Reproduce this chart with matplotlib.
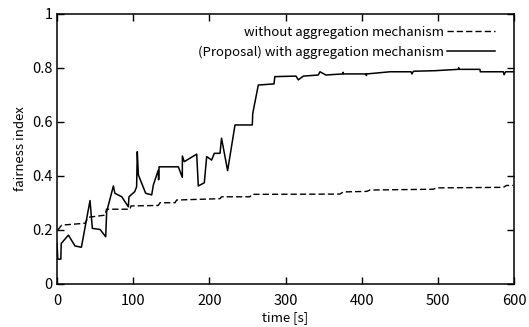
import matplotlib
matplotlib.use("Agg")
import matplotlib.pyplot as plt

plt.rcParams["font.family"] = ["Noto Sans CJK JP", "DejaVu Sans"]

# with aggregation mechanism (proposal)
t_with = [0, 1, 5, 5.5, 14.9, 23.6, 32, 43.3, 46.4, 56.5, 63.9, 65.2, 74, 76, 85,
          93.6, 94.5, 102, 104.5, 105.4, 106.8, 116.4, 124.3, 126.5, 133, 133.4, 134,
          159.3, 164.5, 164.6, 167, 183.4, 185.5, 193.4, 196.5, 203, 206.5, 214, 216,
          224, 233.7, 256.4, 257, 264.3, 284.9, 286, 313.8, 316.8, 323.4, 343, 345.3,
          353, 374.9, 375.5, 376, 405.7, 406.2, 406.7, 437.2, 464.8, 466, 468, 496.2,
          526.9, 527.5, 528, 555.3, 555.8, 564.1, 586, 587, 589, 599]
f_with = [0.15, 0.092, 0.092, 0.15, 0.181, 0.141, 0.136, 0.309, 0.206, 0.202, 0.175,
          0.268, 0.363, 0.336, 0.323, 0.286, 0.323, 0.342, 0.36, 0.49, 0.404, 0.336,
          0.33, 0.367, 0.422, 0.386, 0.434, 0.434, 0.395, 0.474, 0.453, 0.481, 0.363,
          0.375, 0.472, 0.459, 0.484, 0.484, 0.54, 0.42, 0.589, 0.589, 0.632, 0.737,
          0.741, 0.768, 0.77, 0.756, 0.77, 0.774, 0.786, 0.774, 0.778, 0.784, 0.778,
          0.778, 0.772, 0.778, 0.786, 0.786, 0.778, 0.788, 0.79, 0.795, 0.801, 0.795,
          0.795, 0.786, 0.786, 0.786, 0.775, 0.786, 0.786]

# without aggregation mechanism
t_without = [1, 6.1, 36.8, 41, 63, 65, 95.8, 97, 133, 135.2, 155, 157, 214, 216,
             253.4, 255.6, 371.5, 375.9, 406.6, 411, 494, 498.5, 586, 590.4, 599]
f_without = [0.2, 0.218, 0.225, 0.247, 0.255, 0.277, 0.277, 0.289, 0.291, 0.301,
             0.301, 0.311, 0.316, 0.323, 0.323, 0.332, 0.333, 0.341, 0.343, 0.348,
             0.351, 0.356, 0.358, 0.365, 0.365]

x_ticks = [0, 100, 200, 300, 400, 500, 600]
y_ticks = [0, 0.2, 0.4, 0.6, 0.8, 1]
y_labels = ["0", "0.2", "0.4", "0.6", "0.8", "1"]

fig = plt.figure(figsize=(5.29, 3.27), dpi=100)
ax = fig.add_axes([0.1078, 0.1315, 0.8638, 0.8257])

ax.plot(t_without, f_without, color="black", linewidth=1.0,
        linestyle=(0, (4.5, 2.2)), label="without aggregation mechanism")
ax.plot(t_with, f_with, color="black", linewidth=1.1,
        label="(Proposal) with aggregation mechanism")

ax.set_xlim(0, 600)
ax.set_ylim(0, 1)
ax.set_xticks(x_ticks)
ax.set_yticks(y_ticks)
ax.set_yticklabels(y_labels)
ax.tick_params(direction="in", length=5, width=1, top=True, right=True,
               labelsize=10.5)
ax.tick_params(axis="x", pad=7)
ax.tick_params(axis="y", pad=3)
for s in ax.spines.values():
    s.set_linewidth(1.1)

ax.set_xlabel("time [s]", fontsize=9.5, labelpad=2.5)
ax.set_ylabel("fairness index", fontsize=9.5, labelpad=4)

ax.legend(loc="upper right", frameon=False, markerfirst=False, fontsize=9.5,
          handlelength=3.6, handletextpad=0.25, labelspacing=0.5,
          borderaxespad=0.2, bbox_to_anchor=(0.975, 0.985))

fig.savefig("out.png", dpi=100)
